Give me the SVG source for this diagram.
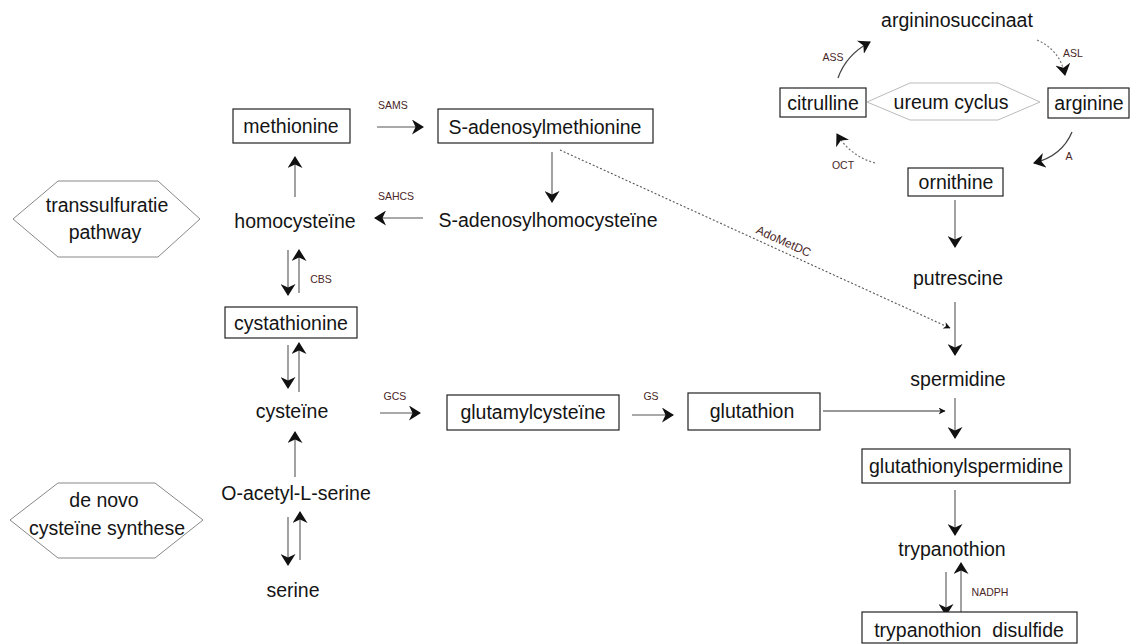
<svg xmlns="http://www.w3.org/2000/svg" width="1132" height="644" viewBox="0 0 1132 644">
<style>
.t{font-family:"Liberation Sans",Arial,sans-serif;font-size:19.5px;fill:#141414;text-anchor:middle}
.s{font-family:"Liberation Sans",Arial,sans-serif;font-size:10.5px;fill:#4a2626;text-anchor:middle}
.box{fill:#fff;stroke:#222;stroke-width:1.2}
.hex{fill:#fff;stroke:#888;stroke-width:1}
.hexl{fill:#fff;stroke:#bbb;stroke-width:1}
.ln{fill:none;stroke:#555;stroke-width:1.1;marker-end:url(#ah)}
.lnt{fill:none;stroke:#333;stroke-width:1.1;marker-end:url(#ahs)}
.dot{fill:none;stroke:#555;stroke-width:1.1;stroke-dasharray:2 2;marker-end:url(#ahs)}
.cv{fill:none;stroke:#444;stroke-width:1.3;marker-end:url(#ah)}
.cvd{fill:none;stroke:#777;stroke-width:1.2;stroke-dasharray:2 2;marker-end:url(#ah)}
</style>
<defs>
<marker id="ah" viewBox="0 0 12 15" refX="11" refY="7.5" markerWidth="12" markerHeight="15" markerUnits="userSpaceOnUse" orient="auto">
<path d="M0,0 L12,7.5 L0,15 L3.5,7.5 z" fill="#111"/>
</marker>
<marker id="ahs" viewBox="0 0 12 12" refX="11" refY="6" markerWidth="7" markerHeight="7" markerUnits="userSpaceOnUse" orient="auto">
<path d="M0,0 L12,6 L0,12 L3.5,6 z" fill="#111"/>
</marker>
</defs>
<rect width="1132" height="644" fill="#fff"/>

<g id="connectors">
<line class="ln" x1="377" y1="127" x2="423" y2="127"/>
<line class="ln" x1="552" y1="152" x2="552" y2="202"/>
<line class="ln" x1="423" y1="218" x2="375" y2="218"/>
<line class="ln" x1="295" y1="197" x2="295" y2="157"/>
<line class="ln" x1="288" y1="250" x2="288" y2="295"/>
<line class="ln" x1="299" y1="293" x2="299" y2="250"/>
<line class="ln" x1="288" y1="345" x2="288" y2="388"/>
<line class="ln" x1="299" y1="392" x2="299" y2="343"/>
<line class="ln" x1="295" y1="477" x2="295" y2="432"/>
<line class="ln" x1="288" y1="517" x2="288" y2="565"/>
<line class="ln" x1="300" y1="560" x2="300" y2="512"/>
<line class="ln" x1="380" y1="413" x2="420" y2="413"/>
<line class="ln" x1="632" y1="415" x2="673" y2="415"/>
<line class="lnt" x1="823" y1="411" x2="945" y2="411"/>
<line class="ln" x1="955" y1="200" x2="955" y2="247"/>
<line class="ln" x1="955" y1="302" x2="955" y2="355"/>
<line class="ln" x1="955" y1="398" x2="955" y2="438"/>
<line class="ln" x1="955" y1="490" x2="955" y2="535"/>
<line class="ln" x1="946" y1="572" x2="946" y2="615"/>
<line class="ln" x1="961" y1="612" x2="961" y2="563"/>
<line class="dot" x1="560" y1="150" x2="950" y2="328"/>
<path class="cv" d="M838,78 Q846,55 870,42"/>
<path class="cvd" d="M1037,40 Q1060,50 1065,75"/>
<path class="cv" d="M1072,132 Q1062,156 1034,163"/>
<path class="cvd" d="M875,163 Q850,156 837,134"/>
</g>

<g id="labels">
<text class="s" x="393" y="109">SAMS</text>
<text class="s" x="396" y="200">SAHCS</text>
<text class="s" x="321" y="283">CBS</text>
<text class="s" x="395" y="400">GCS</text>
<text class="s" x="651" y="400">GS</text>
<text class="s" x="990" y="596">NADPH</text>
<text class="s" x="833" y="61">ASS</text>
<text class="s" x="1073" y="57">ASL</text>
<text class="s" x="1069" y="160">A</text>
<text class="s" x="843" y="169">OCT</text>
<text class="s" style="font-size:12px" transform="translate(782,245) rotate(24.5)" x="0" y="0">AdoMetDC</text>
</g>

<g id="hex-transsulfuratie">
<polygon class="hex" points="13,219 58,181 158,181 200,219 158,257 58,257"/>
<text class="t" x="107" y="212">transsulfuratie</text>
<text class="t" x="105" y="239">pathway</text>
</g>
<g id="hex-denovo">
<polygon class="hex" points="10,520 58,483 155,483 203,520 155,558 58,558"/>
<text class="t" x="104" y="507">de novo</text>
<text class="t" x="107" y="535">cysteïne synthese</text>
</g>

<g id="methionine"><rect class="box" x="233" y="109" width="117" height="34"/><text class="t" x="291" y="133">methionine</text></g>
<g id="sam"><rect class="box" x="438" y="109" width="215" height="34"/><text class="t" x="545" y="134">S-adenosylmethionine</text></g>
<g id="sah"><text class="t" x="548" y="227">S-adenosylhomocysteïne</text></g>
<g id="homocysteine"><text class="t" x="295" y="228">homocysteïne</text></g>
<g id="cystathionine"><rect class="box" x="225" y="307" width="132" height="31"/><text class="t" x="291" y="330">cystathionine</text></g>
<g id="cysteine"><text class="t" x="292" y="418">cysteïne</text></g>
<g id="oas"><text class="t" x="296" y="500">O-acetyl-L-serine</text></g>
<g id="serine"><text class="t" x="293" y="597">serine</text></g>
<g id="glutamylcysteine"><rect class="box" x="447" y="395" width="172" height="35"/><text class="t" x="533" y="419">glutamylcysteïne</text></g>
<g id="glutathion"><rect class="box" x="688" y="393" width="132" height="37"/><text class="t" x="752" y="418">glutathion</text></g>

<g id="argininosuccinaat"><text class="t" x="957" y="27">argininosuccinaat</text></g>
<g id="citrulline"><rect class="box" x="780" y="88" width="86" height="29"/><text class="t" x="823" y="110">citrulline</text></g>
<g id="ureum-cyclus">
<polygon class="hexl" points="867,102 910,83 998,83 1040,102 998,120 910,120"/>
<text class="t" x="951" y="109">ureum cyclus</text>
</g>
<g id="arginine"><rect class="box" x="1048" y="88" width="81" height="30"/><text class="t" x="1089" y="110">arginine</text></g>
<g id="ornithine"><rect class="box" x="908" y="168" width="95" height="28"/><text class="t" x="956" y="189">ornithine</text></g>
<g id="putrescine"><text class="t" x="958" y="285">putrescine</text></g>
<g id="spermidine"><text class="t" x="958" y="386">spermidine</text></g>
<g id="glutathionylspermidine"><rect class="box" x="862" y="449" width="208" height="34"/><text class="t" x="966" y="473">glutathionylspermidine</text></g>
<g id="trypanothion"><text class="t" x="952" y="556">trypanothion</text></g>
<g id="disulfide"><rect class="box" x="862" y="612" width="215" height="31"/><text class="t" x="969" y="637" style="white-space:pre">trypanothion  disulfide</text></g>
</svg>
